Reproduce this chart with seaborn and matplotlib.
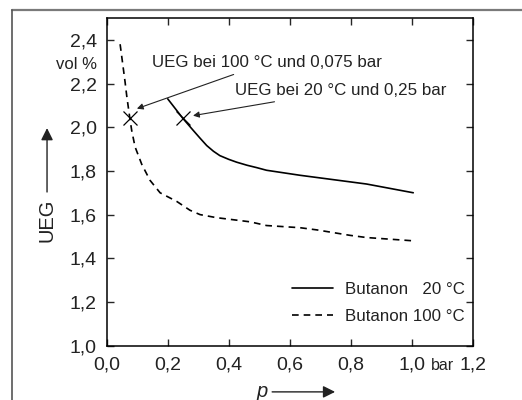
import numpy as np
import pandas as pd
import seaborn as sns
import matplotlib.pyplot as plt
from matplotlib.lines import Line2D

# Butanon 20 °C
p_20 = [0.20, 0.25, 0.284, 0.306, 0.328, 0.350, 0.371, 0.400, 0.426, 0.460, 0.492,
        0.524, 0.634, 0.743, 0.852, 1.005]
ueg_20 = [2.13, 2.04, 1.985, 1.95, 1.916, 1.89, 1.87, 1.853, 1.84, 1.826, 1.815,
          1.803, 1.78, 1.76, 1.74, 1.70]

# Butanon 100 °C
p_100 = [0.044, 0.060, 0.066, 0.076, 0.082, 0.093, 0.115, 0.142, 0.175, 0.23, 0.273,
         0.306, 0.36, 0.47, 0.524, 0.634, 0.689, 0.798, 0.852, 1.005]
ueg_100 = [2.38, 2.21, 2.14, 2.04, 1.985, 1.91, 1.83, 1.757, 1.70, 1.66, 1.62,
           1.60, 1.586, 1.567, 1.55, 1.54, 1.53, 1.505, 1.495, 1.48]

labels = ['Butanon   20 °C', 'Butanon 100 °C']
marks_p = [0.25, 0.076]
marks_ueg = [2.04, 2.04]

xticks = [0.0, 0.2, 0.4, 0.6, 0.8, 1.0, 1.2]
xticklabels = ['0,0', '0,2', '0,4', '0,6', '0,8', '1,0', '1,2']
yticks = [1.0, 1.2, 1.4, 1.6, 1.8, 2.0, 2.2, 2.4]
yticklabels = ['1,0', '1,2', '1,4', '1,6', '1,8', '2,0', '2,2', '2,4']

df = pd.concat([
    pd.DataFrame({'p': p_20, 'UEG': ueg_20, 'Reihe': labels[0]}),
    pd.DataFrame({'p': p_100, 'UEG': ueg_100, 'Reihe': labels[1]}),
])

sns.set_theme(style='ticks')
plt.rcParams['font.family'] = ['Liberation Sans', 'DejaVu Sans']
txt = '#222222'

fig = plt.figure(figsize=(5.22, 4.0), dpi=100)
ax = fig.add_axes([0.2044, 0.1358, 0.7012, 0.8192])

sns.lineplot(data=df, x='p', y='UEG', style='Reihe', estimator=None, sort=False,
             dashes={labels[0]: '', labels[1]: (4, 3)}, color='black', lw=1.2, ax=ax)
ax.plot(marks_p, marks_ueg, 'x', color='black', ms=10, mew=0.9)

ax.set_xlim(0, 1.2)
ax.set_ylim(1.0, 2.5)
ax.set_xticks(xticks)
ax.set_xticklabels(xticklabels)
ax.set_yticks(yticks)
ax.set_yticklabels(yticklabels)
ax.tick_params(direction='in', length=5, width=1, top=True, right=True,
               labelsize=14, labelcolor=txt)
ax.tick_params(axis='x', pad=8)
ax.tick_params(axis='y', pad=7)
for s in ax.spines.values():
    s.set_linewidth(1.1)
    s.set_color('black')
ax.set_xlabel('')
ax.set_ylabel('')

leg = ax.legend(loc='lower right', bbox_to_anchor=(1.019, 0.02), frameon=False,
                fontsize=12.2, handlelength=2.4, handletextpad=0.7, labelspacing=0.72)
for t in leg.get_texts():
    t.set_color(txt)

# units
ax.text(1.1, -0.074, 'bar', transform=ax.get_xaxis_transform(), ha='center', va='baseline',
        fontsize=11.5, color=txt)
ax.text(-0.027, 2.286, 'vol %', transform=ax.get_yaxis_transform(), ha='right', va='center',
        fontsize=12, color=txt)

# annotations
ax.annotate('UEG bei 100 °C und 0,075 bar', xy=(0.099, 2.085), xytext=(0.148, 2.295),
            fontsize=12.2, color=txt, va='center', ha='left',
            arrowprops=dict(arrowstyle='-|>', color='#222222', lw=0.8, mutation_scale=9,
                            shrinkA=2, shrinkB=0))
ax.annotate('UEG bei 20 °C und 0,25 bar', xy=(0.283, 2.053), xytext=(0.42, 2.168),
            fontsize=12.2, color=txt, va='center', ha='left',
            arrowprops=dict(arrowstyle='-|>', color='#222222', lw=0.8, mutation_scale=9,
                            shrinkA=2, shrinkB=0))

# axis labels with arrows
ax.text(-0.163, 0.384, 'UEG', transform=ax.transAxes, rotation=90, ha='center', va='center',
        fontsize=14.5, color=txt)
ax.annotate('', xy=(-0.163, 0.664), xytext=(-0.163, 0.469), xycoords='axes fraction',
            arrowprops=dict(arrowstyle='-|>', color='#222222', lw=1, mutation_scale=18,
                            shrinkA=0, shrinkB=0))
ax.text(0.424, -0.14, 'p', transform=ax.transAxes, style='italic', ha='center', va='center',
        fontsize=14.5, color=txt)
ax.annotate('', xy=(0.624, -0.141), xytext=(0.452, -0.141), xycoords='axes fraction',
            arrowprops=dict(arrowstyle='-|>', color='#222222', lw=1, mutation_scale=18,
                            shrinkA=0, shrinkB=0))

# outer frame (top and left)
fig.add_artist(Line2D([12 / 522, 1.0], [1 - 10 / 400, 1 - 10 / 400], color='#7a7a7a', lw=1.6))
fig.add_artist(Line2D([12 / 522, 12 / 522], [0, 1 - 10 / 400], color='#555555', lw=1.2))

fig.savefig('out.png', dpi=100)
